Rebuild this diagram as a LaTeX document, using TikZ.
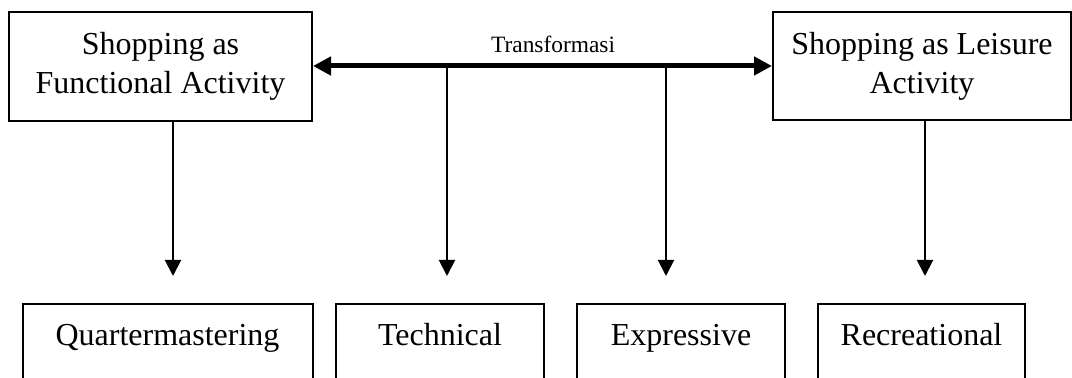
\documentclass[tikz,border=0pt]{standalone}
\usepackage{fontspec}
\setmainfont{Liberation Serif}
\usetikzlibrary{arrows.meta}
\begin{document}
\begin{tikzpicture}[x=0.5pt,y=-0.5pt,
  topbox/.style={draw, line width=1pt, inner sep=0pt, align=center,
    font=\fontsize{16}{19.5}\selectfont},
  typebox/.style={draw, line width=1pt, inner xsep=0pt, inner ysep=0pt,
    anchor=north, text height=21pt, text depth=60pt,
    font=\fontsize{16}{19.5}\selectfont},
  downarrow/.style={line width=1pt, -{Triangle[width=8pt,length=8pt]}},
  shiftarrow/.style={line width=2.5pt,
    {Triangle[width=9pt,length=9pt]}-{Triangle[width=9pt,length=9pt]}},
  lbl/.style={inner sep=0pt, font=\fontsize{11.7}{14}\selectfont}
]
\useasboundingbox (0,0) rectangle (1072,378);

% the two views of shopping
\node[topbox, minimum width=151.5pt, minimum height=54.5pt] (func) at (160.5,66.5)
  {Shopping as\\Functional Activity};
\node[topbox, minimum width=149pt, minimum height=54pt] (leis) at (922,66)
  {Shopping as Leisure\\Activity};

% the four shopping types (boxes run past the lower edge)
\node[typebox, minimum width=145pt] (quart) at (167.5,303) {Quartermastering};
\node[typebox, minimum width=103.75pt] (tech) at (440,303) {Technical};
\node[typebox, minimum width=104pt] (expr) at (681,303) {Expressive};
\node[typebox, minimum width=103.5pt] (recr) at (921.5,303) {Recreational};

% transformation between the two views
\draw[shiftarrow] (func.east |- 0,66) -- (leis.west |- 0,66)
  node[lbl, pos=0.523, above=5.5pt] (trans) {Transformasi};

% branch points on the transformation line and arrow ends
\coordinate (tTop) at (447,66);
\coordinate (eTop) at (666,66);
\coordinate (qEnd) at (173,276);
\coordinate (tEnd) at (447,276);
\coordinate (eEnd) at (666,276);
\coordinate (rEnd) at (925,276);

\draw[downarrow] (func.south -| qEnd) -- (qEnd);
\draw[downarrow] (tTop) -- (tEnd);
\draw[downarrow] (eTop) -- (eEnd);
\draw[downarrow] (leis.south -| rEnd) -- (rEnd);
\end{tikzpicture}
\end{document}
